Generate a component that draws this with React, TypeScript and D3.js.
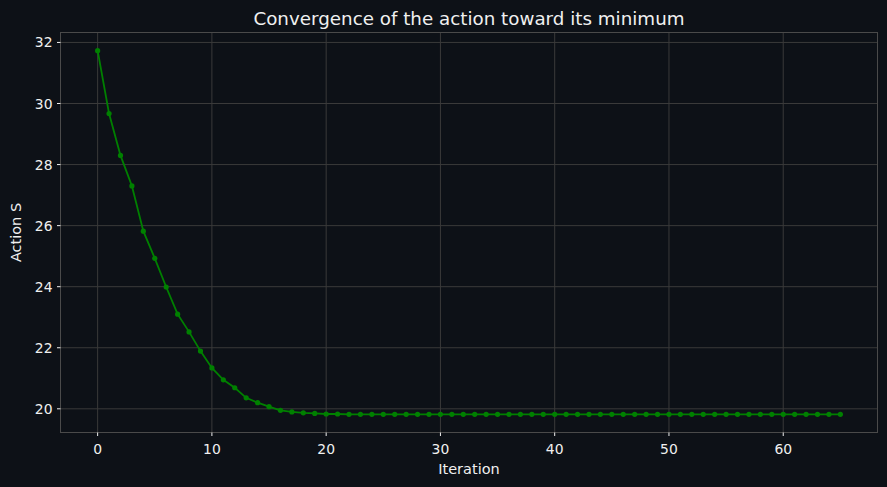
import React from "react";
import * as d3 from "d3";

const iterations: number[] = Array.from({ length: 66 }, (_, i) => i);
const actionValues: number[] = [
  31.73, 29.67, 28.3, 27.3, 25.82, 24.93, 23.99, 23.1, 22.52, 21.89,
  21.34, 20.95, 20.69, 20.36, 20.2, 20.07, 19.95, 19.9, 19.87, 19.85,
  19.83, 19.83, 19.82, 19.82, 19.82, 19.82, 19.82, 19.82, 19.82, 19.82,
  19.82, 19.82, 19.82, 19.82, 19.82, 19.82, 19.82, 19.82, 19.82, 19.82,
  19.82, 19.82, 19.82, 19.82, 19.82, 19.82, 19.82, 19.82, 19.82, 19.82,
  19.82, 19.82, 19.82, 19.82, 19.82, 19.82, 19.82, 19.82, 19.82, 19.82,
  19.82, 19.82, 19.82, 19.82, 19.82, 19.82,
];
const xTicks: number[] = [0, 10, 20, 30, 40, 50, 60];
const yTicks: number[] = [20, 22, 24, 26, 28, 30, 32];
const title = "Convergence of the action toward its minimum";
const xLabel = "Iteration";
const yLabel = "Action S";

const W = 887;
const H = 487;
const M = { left: 60.5, right: 877.5, top: 32.5, bottom: 432.5 };
const BG = "#0d1117";
const TXT = "#f0f0f0";
const GRID = "#3a3a3a";
const SPINE = "#4a4a4a";
const FONT = "DejaVu Sans, sans-serif";

export default function App() {
  const xMin = d3.min(iterations)!;
  const xMax = d3.max(iterations)!;
  const yMin = d3.min(actionValues)!;
  const yMax = d3.max(actionValues)!;
  const xPad = (xMax - xMin) * 0.05;
  const yPad = (yMax - yMin) * 0.05;
  const x = d3.scaleLinear().domain([xMin - xPad, xMax + xPad]).range([M.left, M.right]);
  const y = d3.scaleLinear().domain([yMin - yPad, yMax + yPad]).range([M.bottom, M.top]);
  const pts = iterations.map((it, i) => [x(it), y(actionValues[i])] as [number, number]);
  const line = d3.line()(pts) || "";

  return (
    <svg
      width={W}
      height={H}
      style={{ position: "absolute", left: 0, top: 0, background: BG }}
      fontFamily={FONT}
    >
      <rect x={0} y={0} width={W} height={H} fill={BG} />
      {xTicks.map((t) => (
        <line key={"gx" + t} x1={x(t)} x2={x(t)} y1={M.top} y2={M.bottom} stroke={GRID} strokeWidth={1} />
      ))}
      {yTicks.map((t) => (
        <line key={"gy" + t} x1={M.left} x2={M.right} y1={y(t)} y2={y(t)} stroke={GRID} strokeWidth={1} />
      ))}
      <rect
        x={M.left}
        y={M.top}
        width={M.right - M.left}
        height={M.bottom - M.top}
        fill="none"
        stroke={SPINE}
        strokeWidth={1}
      />
      {xTicks.map((t) => (
        <g key={"tx" + t}>
          <line x1={x(t)} x2={x(t)} y1={M.bottom} y2={M.bottom + 3.5} stroke={TXT} strokeWidth={1} />
          <text x={x(t)} y={M.bottom + 21} fill={TXT} fontSize={13.9} textAnchor="middle">
            {t}
          </text>
        </g>
      ))}
      {yTicks.map((t) => (
        <g key={"ty" + t}>
          <line x1={M.left - 3.5} x2={M.left} y1={y(t)} y2={y(t)} stroke={TXT} strokeWidth={1} />
          <text x={M.left - 8} y={y(t) + 5} fill={TXT} fontSize={13.9} textAnchor="end">
            {t}
          </text>
        </g>
      ))}
      <path d={line} fill="none" stroke="#008000" strokeWidth={1.8} />
      {pts.map((p, i) => (
        <circle key={"p" + i} cx={p[0]} cy={p[1]} r={2.6} fill="#008000" />
      ))}
      <text x={(M.left + M.right) / 2} y={24.5} fill={TXT} fontSize={18.3} textAnchor="middle">
        {title}
      </text>
      <text x={(M.left + M.right) / 2} y={474} fill={TXT} fontSize={14.5} textAnchor="middle">
        {xLabel}
      </text>
      <text
        transform={`translate(21, ${(M.top + M.bottom) / 2}) rotate(-90)`}
        fill={TXT}
        fontSize={14.5}
        textAnchor="middle"
      >
        {yLabel}
      </text>
    </svg>
  );
}
